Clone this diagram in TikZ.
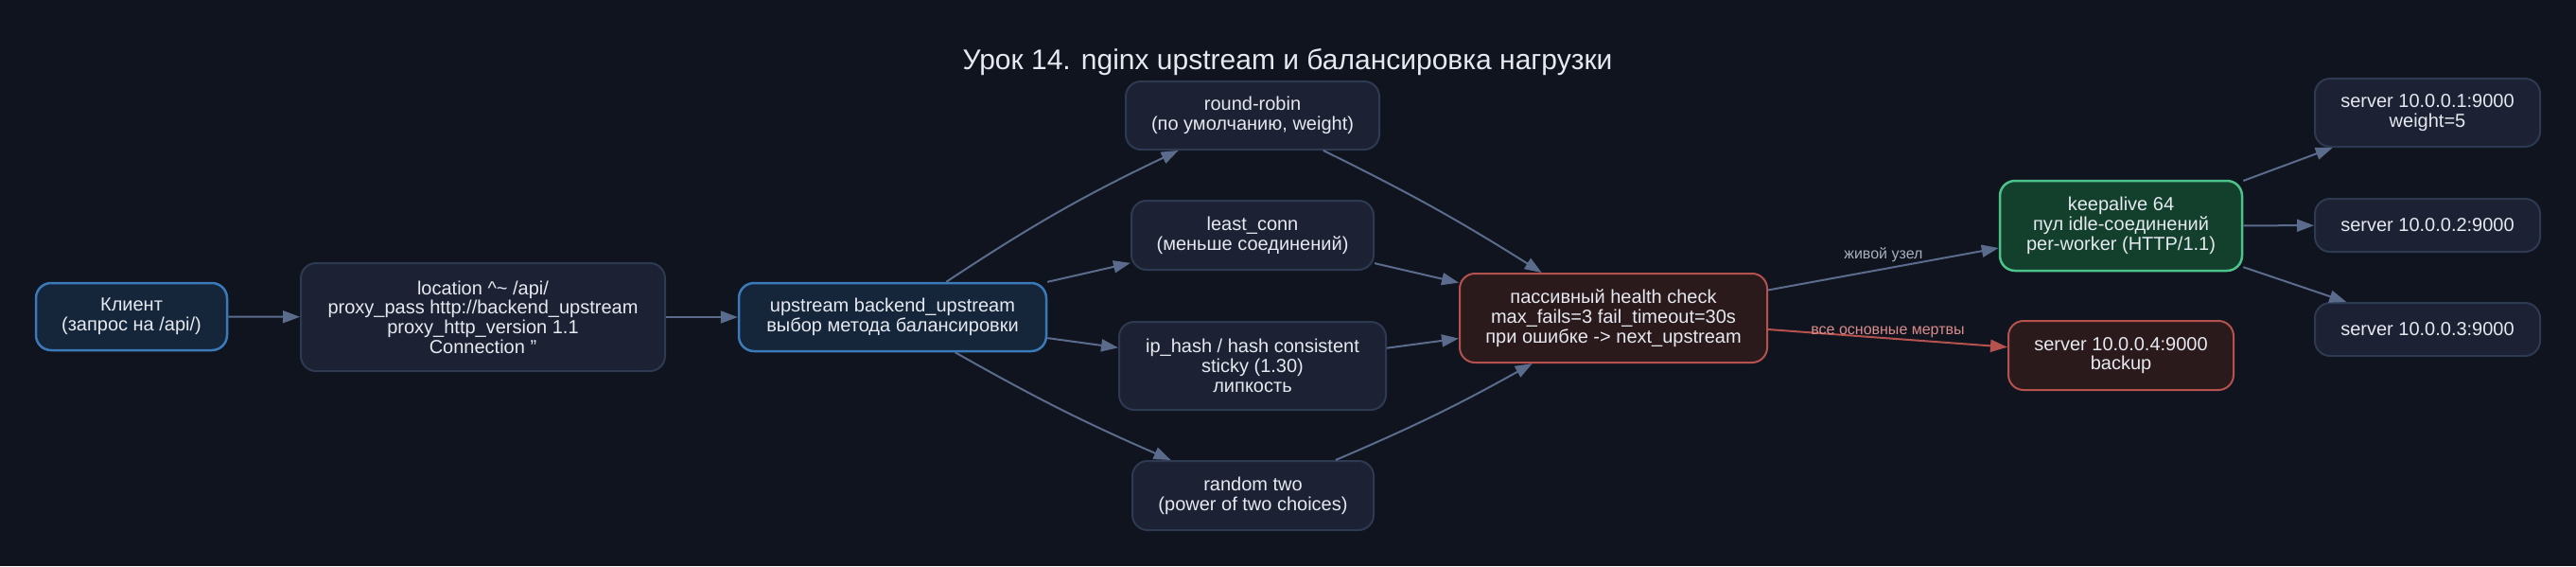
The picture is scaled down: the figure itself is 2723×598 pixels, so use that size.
\documentclass[tikz,border=0pt]{standalone}
\usepackage{fontspec}
\setmainfont{Liberation Sans}
\usetikzlibrary{arrows.meta}
\definecolor{bg}{HTML}{10141F}
\definecolor{nfill}{HTML}{1C2233}
\definecolor{ndraw}{HTML}{2E3A52}
\definecolor{bfill}{HTML}{15263B}
\definecolor{bdraw}{HTML}{3A7AB8}
\definecolor{rfill}{HTML}{2A1A1C}
\definecolor{rdraw}{HTML}{B5524E}
\definecolor{gfill}{HTML}{12402C}
\definecolor{gdraw}{HTML}{4CC38A}
\definecolor{txt}{HTML}{E6E9F0}
\definecolor{edge}{HTML}{5B6B8C}
\definecolor{lbl}{HTML}{A8B0C0}
\definecolor{rlbl}{HTML}{D98C8A}
\tikzset{
  box/.style={draw=ndraw, fill=nfill, line width=2pt, rounded corners=16pt,
    text=txt, align=center, inner sep=0pt,
    font=\fontsize{20}{20.7}\selectfont},
  bluebox/.style={box, draw=bdraw, fill=bfill, line width=2.5pt},
  redbox/.style={box, draw=rdraw, fill=rfill},
  greenbox/.style={box, draw=gdraw, fill=gfill, line width=2.5pt},
  conn/.style={draw=edge, line width=2pt, -{Triangle[length=18pt,width=13pt]}},
  rconn/.style={conn, draw=rdraw, -{Triangle[length=18pt,width=13pt,fill=rdraw]}},
  elabel/.style={font=\fontsize{16}{18}\selectfont, text=lbl, inner sep=2pt},
}
\begin{document}
\begin{tikzpicture}[x=1pt,y=-1pt]
\fill[bg] (0,0) rectangle (2723,598);
\useasboundingbox (0,0) rectangle (2723,598);
\node[text=txt, font=\fontsize{30}{34}\selectfont, anchor=base] (title) at (1361,73) {Урок 14. nginx upstream и балансировка нагрузки};

\node[bluebox, minimum width=202pt, minimum height=71pt] (client) at (139,334.5) {Клиент\\(запрос на /api/)};
\node[box, minimum width=385pt, minimum height=114pt] (loc) at (510.5,335) {location \textasciicircum\textasciitilde\ /api/\\proxy\_pass http://backend\_upstream\\proxy\_http\_version 1.1\\Connection \char"27\char"27};
\node[bluebox, minimum width=325pt, minimum height=72pt] (up) at (943.5,335) {upstream backend\_upstream\\выбор метода балансировки};
\node[box, minimum width=268pt, minimum height=72pt] (rr) at (1324,122) {round-robin\\(по умолчанию, weight)};
\node[box, minimum width=256pt, minimum height=73pt] (lc) at (1324,248.5) {least\_conn\\(меньше соединений)};
\node[box, minimum width=282pt, minimum height=93pt] (ip) at (1324,386.5) {ip\_hash / hash consistent\\sticky (1.30)\\липкость};
\node[box, minimum width=255pt, minimum height=73pt] (rnd) at (1324.5,523.5) {random two\\(power of two choices)};
\node[redbox, minimum width=325pt, minimum height=94pt] (hc) at (1705.5,336) {пассивный health check\\max\_fails=3 fail\_timeout=30s\\при ошибке -> next\_upstream};
\node[greenbox, minimum width=256pt, minimum height=95pt] (ka) at (2242,238.5) {keepalive 64\\пул idle-соединений\\per-worker (HTTP/1.1)};
\node[redbox, minimum width=238pt, minimum height=73pt] (bk) at (2242,375.5) {server 10.0.0.4:9000\\backup};
\node[box, minimum width=238pt, minimum height=72pt] (s1) at (2566,119) {server 10.0.0.1:9000\\weight=5};
\node[box, minimum width=238pt, minimum height=56pt] (s2) at (2566,238) {server 10.0.0.2:9000};
\node[box, minimum width=238pt, minimum height=56pt] (s3) at (2566,348) {server 10.0.0.3:9000};

\draw[conn] (client) -- (loc);
\draw[conn] (loc) -- (up);
\draw[conn] (up) to[bend left=4] (rr);
\draw[conn] (up) -- (lc);
\draw[conn] (up) -- (ip);
\draw[conn] (up) to[bend right=3] (rnd);
\draw[conn] (rr) to[bend left=3] (hc);
\draw[conn] (lc) -- (hc);
\draw[conn] (ip) -- (hc);
\draw[conn] (rnd) to[bend right=3] (hc);
\draw[conn] (hc) -- node[elabel, above=4pt, pos=0.5] (l1) {живой узел} (ka);
\draw[rconn] (hc) -- node[elabel, text=rlbl, above=-2pt, pos=0.5] (l2) {все основные мертвы} (bk);
\draw[conn] (ka) -- (s1);
\draw[conn] (ka) -- (s2);
\draw[conn] (ka) -- (s3);
\end{tikzpicture}
\end{document}
